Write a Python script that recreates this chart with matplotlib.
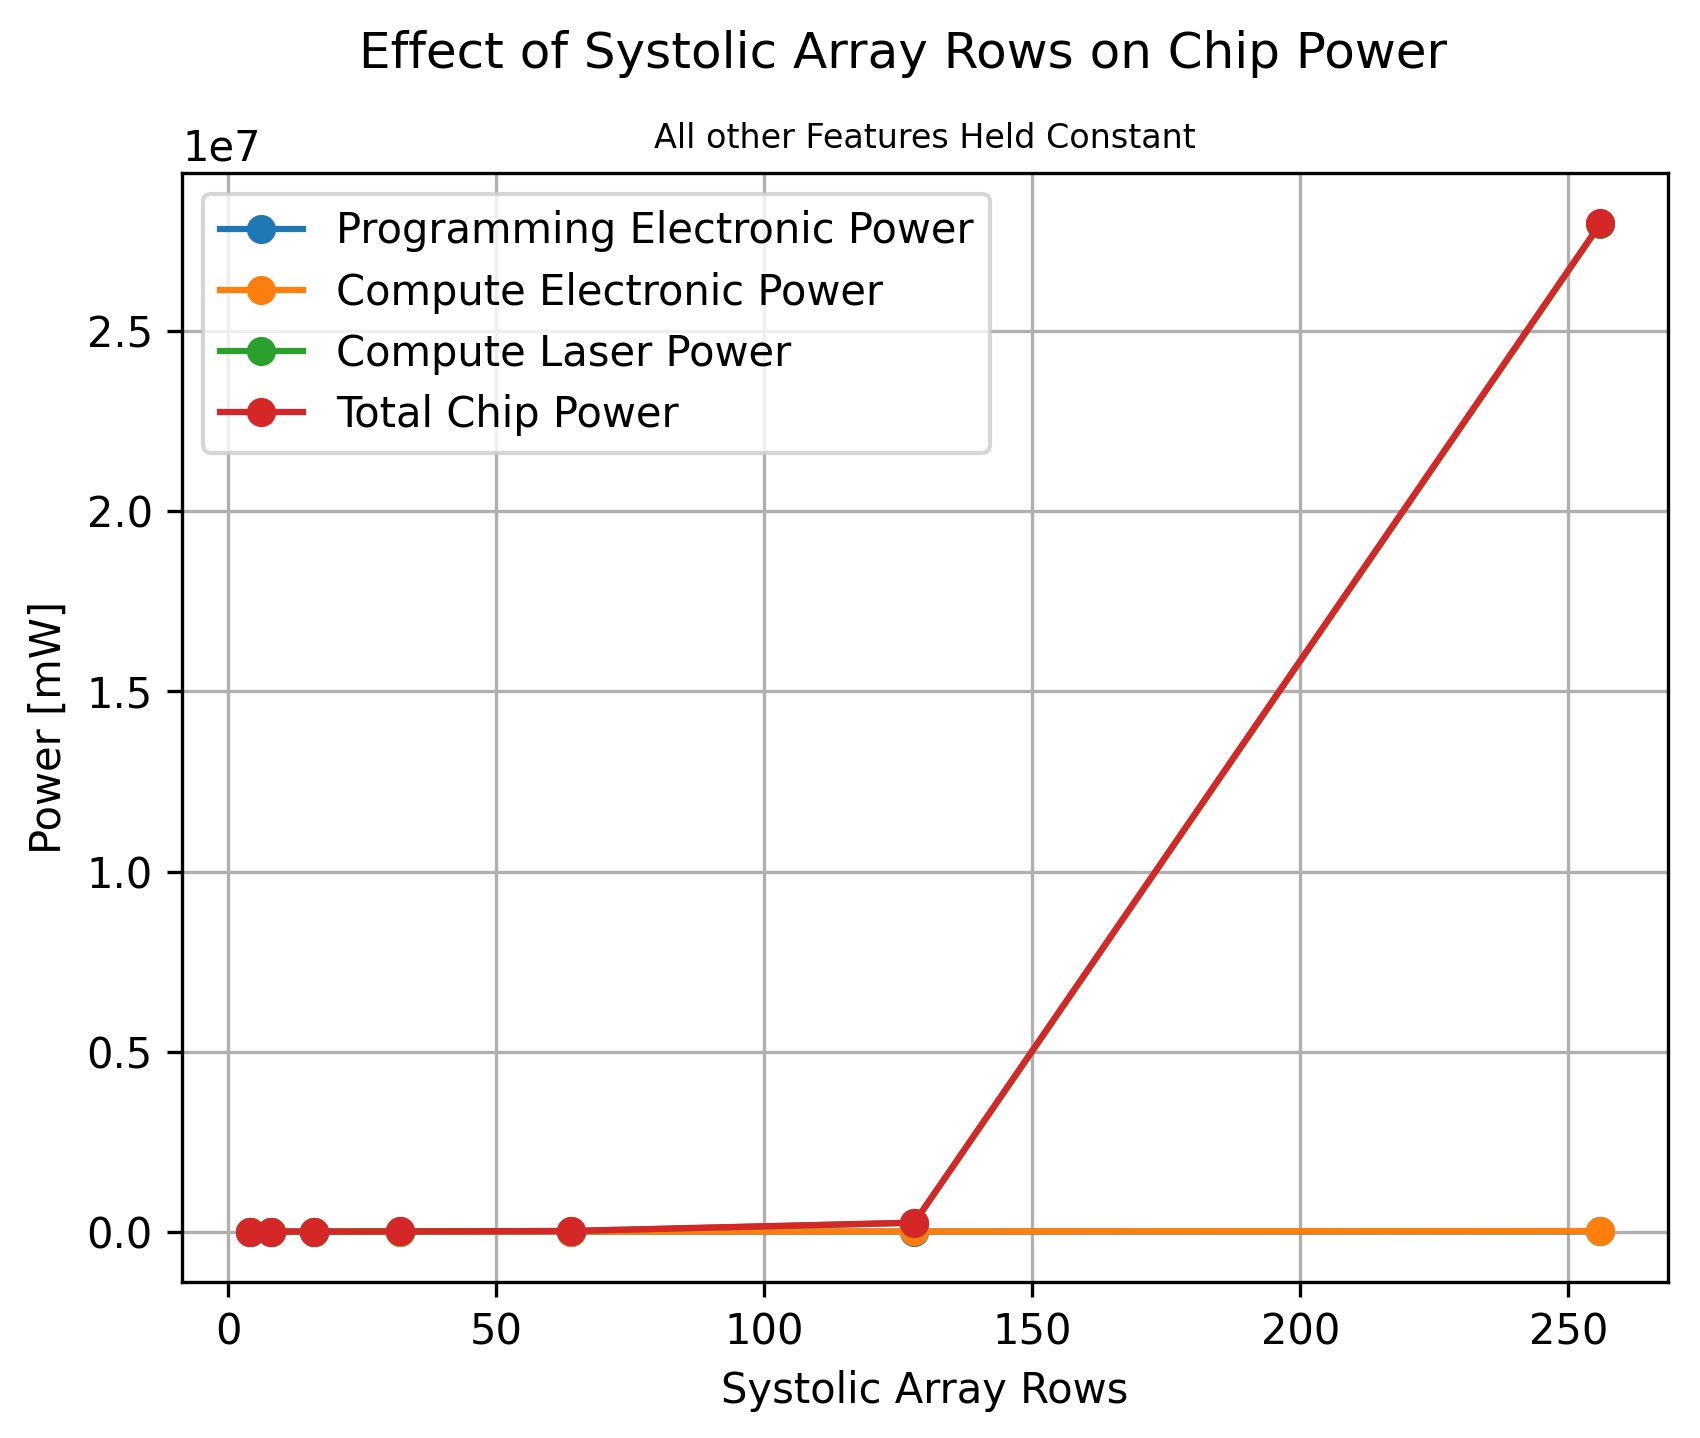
import matplotlib
matplotlib.use("Agg")
import matplotlib.pyplot as plt

rows = [4, 8, 16, 32, 64, 128, 256]
programming_electronic = [40, 80, 160, 320, 640, 1280, 2560]
compute_electronic = [20, 50, 130, 400, 1300, 4500, 16000]
compute_laser = [50, 200, 900, 3500, 16000, 244000, 27980000]
total_power = [p + c + l for p, c, l in zip(programming_electronic, compute_electronic, compute_laser)]

fig = plt.figure(figsize=(1700 / 300, 1438 / 300), dpi=300)
ax = fig.add_axes([182 / 1700, 156 / 1438, 1486 / 1700, 1109 / 1438])

ax.plot(rows, programming_electronic, marker="o", label="Programming Electronic Power")
ax.plot(rows, compute_electronic, marker="o", label="Compute Electronic Power")
ax.plot(rows, compute_laser, marker="o", label="Compute Laser Power")
ax.plot(rows, total_power, marker="o", label="Total Chip Power")

ax.set_xlabel("Systolic Array Rows")
ax.set_ylabel("Power [mW]")
ax.set_title("All other Features Held Constant", fontsize=8)
fig.suptitle("Effect of Systolic Array Rows on Chip Power", fontsize=12, x=0.531, y=0.979)
ax.grid(True)
ax.legend(loc="upper left", labelspacing=0.46)

fig.savefig("out.png", dpi=300)
